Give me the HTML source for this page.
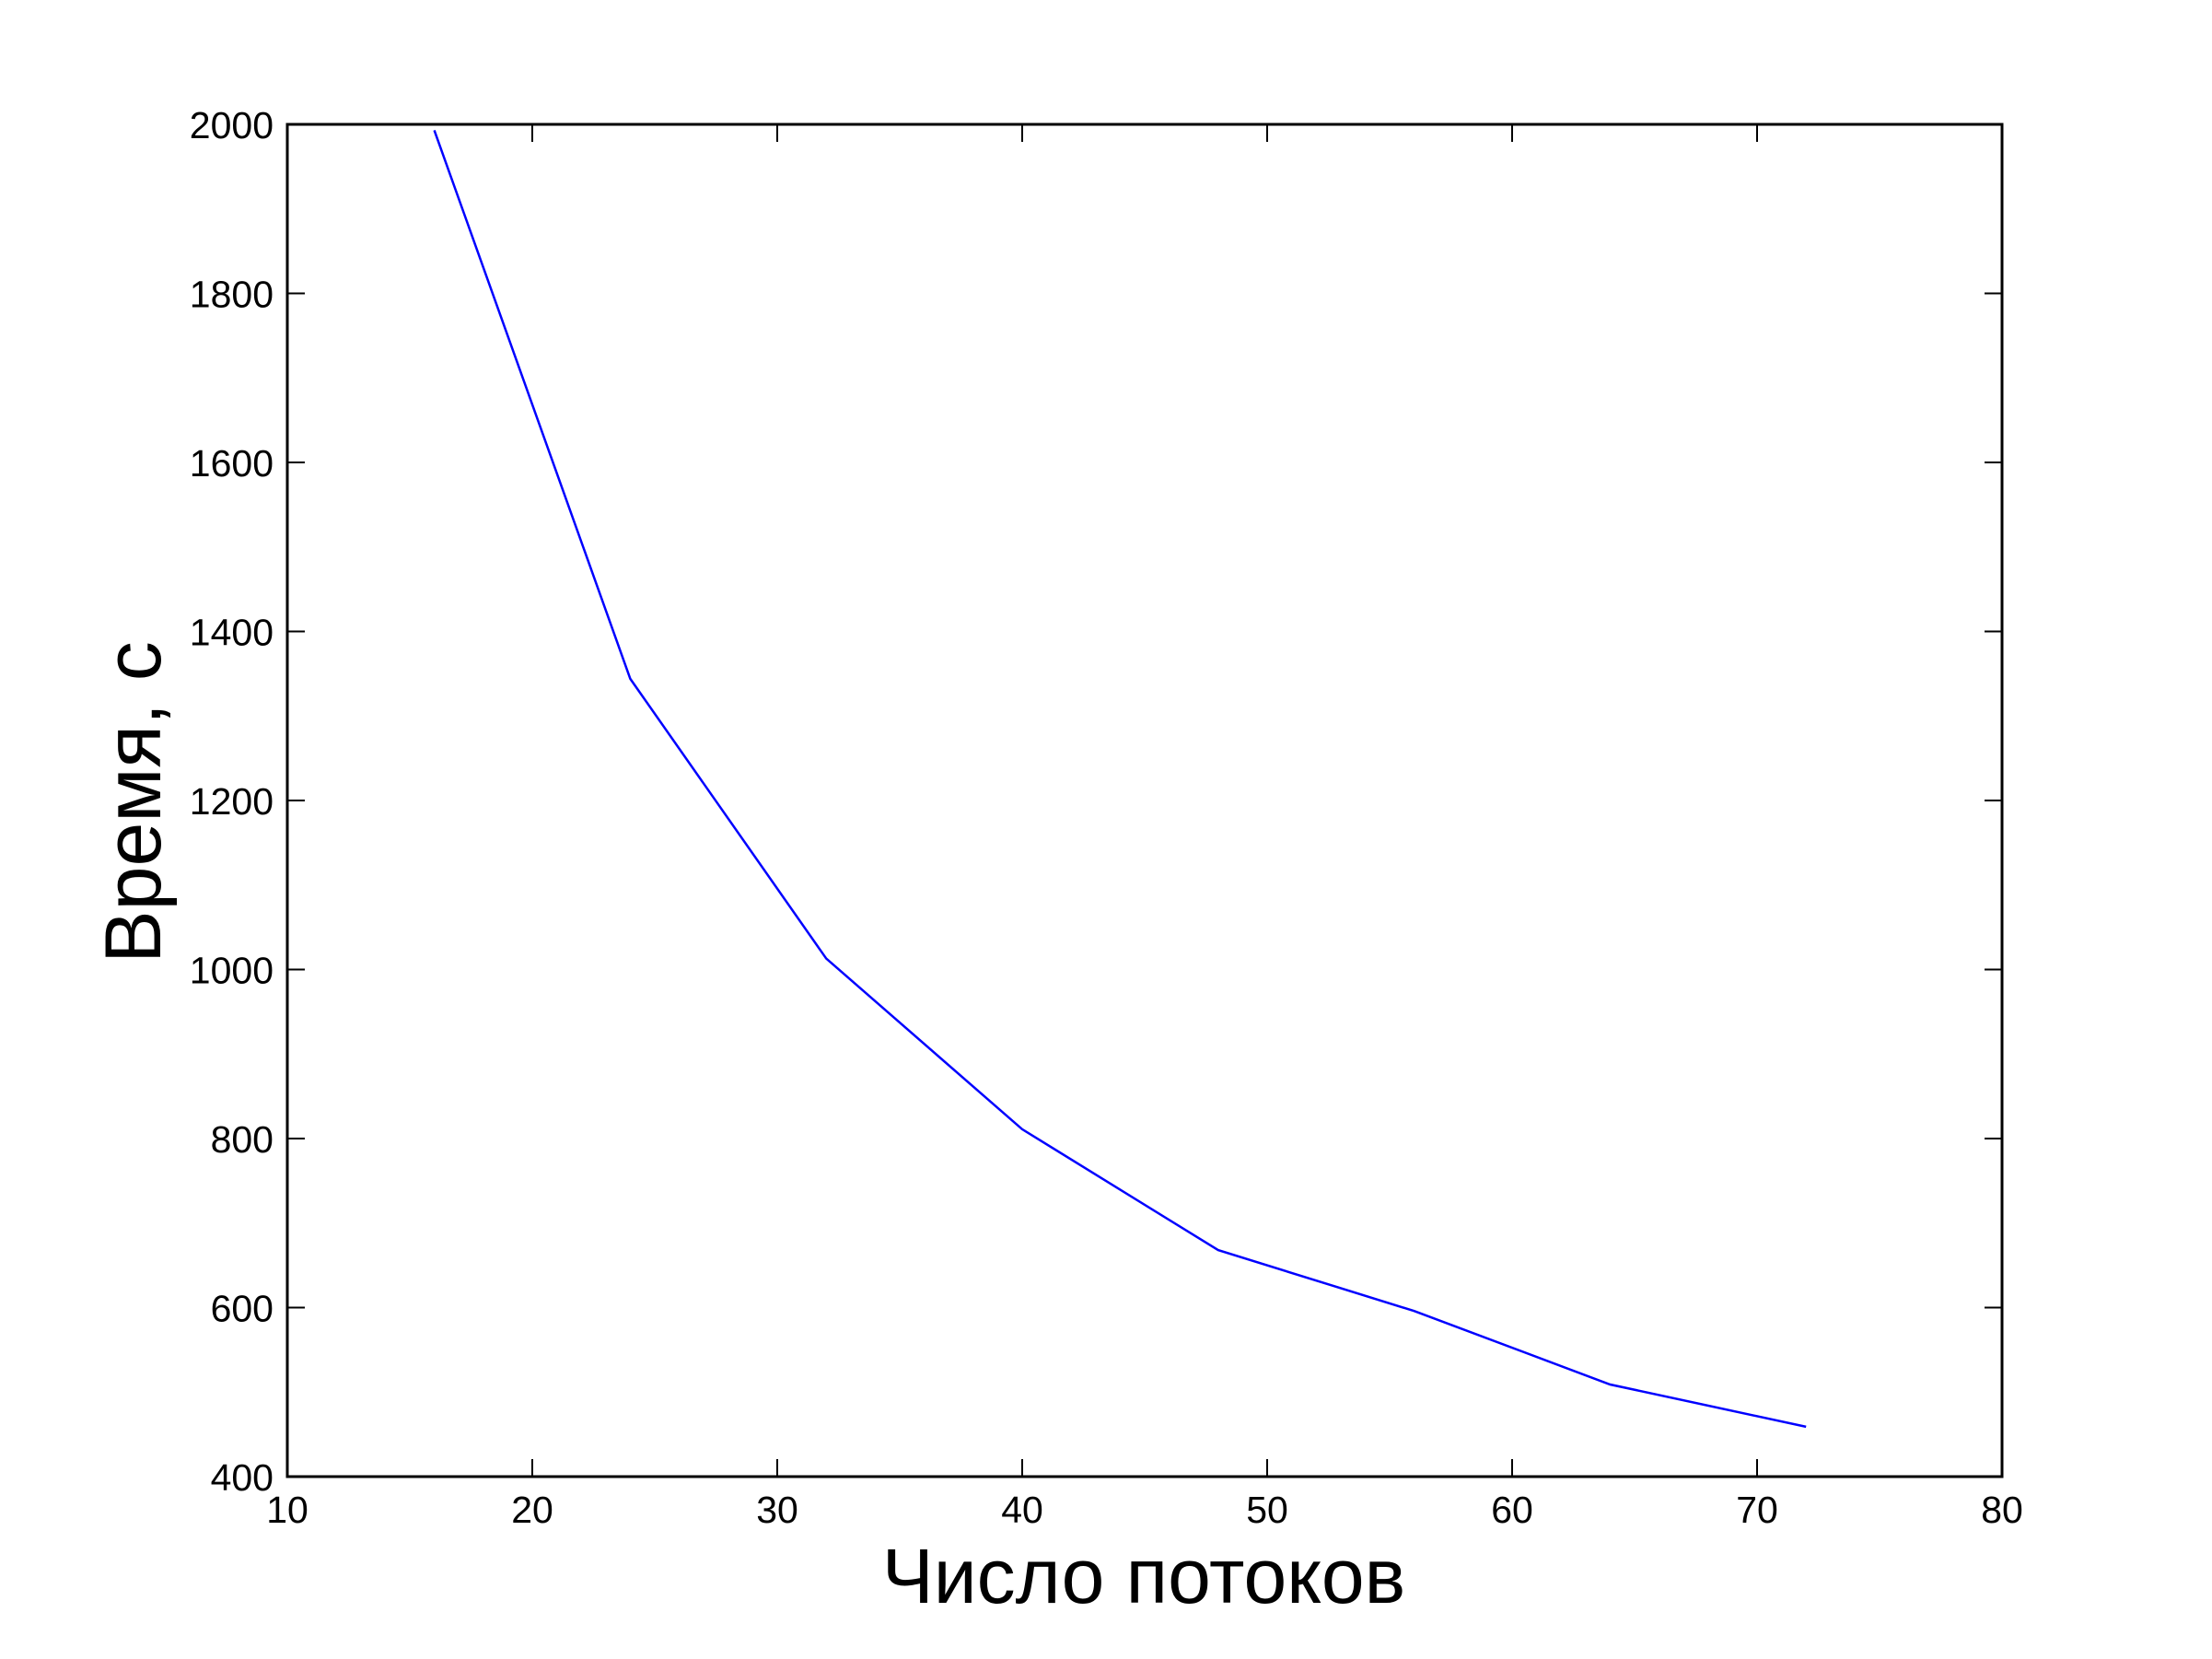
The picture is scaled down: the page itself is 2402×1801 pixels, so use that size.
<!DOCTYPE html>
<html><head><meta charset="utf-8"><style>
html,body{margin:0;padding:0;background:#fff;}
svg{display:block;font-family:"Liberation Sans",sans-serif;}
</style></head><body>
<svg id="chart" width="2402" height="1801" viewBox="0 0 2402 1801" xmlns="http://www.w3.org/2000/svg">
<rect x="0" y="0" width="2402" height="1801" fill="#fff"/>
<g id="ticks"></g>
<g id="series"></g>
<rect x="312" y="135" width="1862" height="1468" fill="none" stroke="#000" stroke-width="3"/>
<text x="1242" y="1740" font-size="84" text-anchor="middle">Число потоков</text>
<text transform="translate(174,871) rotate(-90)" font-size="86" text-anchor="middle">Время, с</text>
</svg>
<script>
const threads = [16, 24, 32, 40, 48, 56, 64, 72];
const times = [1993, 1344, 1013, 811, 668, 596, 509, 459];
const xTicks = [10, 20, 30, 40, 50, 60, 70, 80];
const yTicks = [400, 600, 800, 1000, 1200, 1400, 1600, 1800, 2000];
const NS = 'http://www.w3.org/2000/svg';
const L = 312, R = 2174, T = 135, B = 1603;
function xs(v){ return L + (v - 10) / 70 * (R - L); }
function ys(v){ return B - (v - 400) / 1600 * (B - T); }
const tg = document.getElementById('ticks');
function mk(tag, attrs){ const e = document.createElementNS(NS, tag); for (const k in attrs) e.setAttribute(k, attrs[k]); return e; }
xTicks.forEach(v => {
  const x = xs(v);
  const t1 = mk('line', {x1:x, x2:x, y1:B, y2:B-19, stroke:'#000', 'stroke-width':2});
  
  
  tg.appendChild(t1);
  const t2 = mk('line', {x1:x, x2:x, y1:T, y2:T+19, stroke:'#000', 'stroke-width':2});
  
  
  tg.appendChild(t2);
  const lab = mk('text', {x:x, y:1653, 'font-size':41, 'text-anchor':'middle'});
  lab.textContent = v;
  
  
  tg.appendChild(lab);
});
yTicks.forEach(v => {
  const y = ys(v);
  const t1 = mk('line', {x1:L, x2:L+19, y1:y, y2:y, stroke:'#000', 'stroke-width':2});
  
  
  tg.appendChild(t1);
  const t2 = mk('line', {x1:R, x2:R-19, y1:y, y2:y, stroke:'#000', 'stroke-width':2});
  
  
  tg.appendChild(t2);
  const lab = mk('text', {x:297, y:y+15, 'font-size':41, 'text-anchor':'end'});
  lab.textContent = v;
  
  
  tg.appendChild(lab);
});
const pts = threads.map((t, i) => xs(t) + ',' + ys(times[i])).join(' ');
const line = mk('polyline', {points:pts, fill:'none', stroke:'#0000ff', 'stroke-width':2.5});


document.getElementById('series').appendChild(line);
</script>
</body></html>
